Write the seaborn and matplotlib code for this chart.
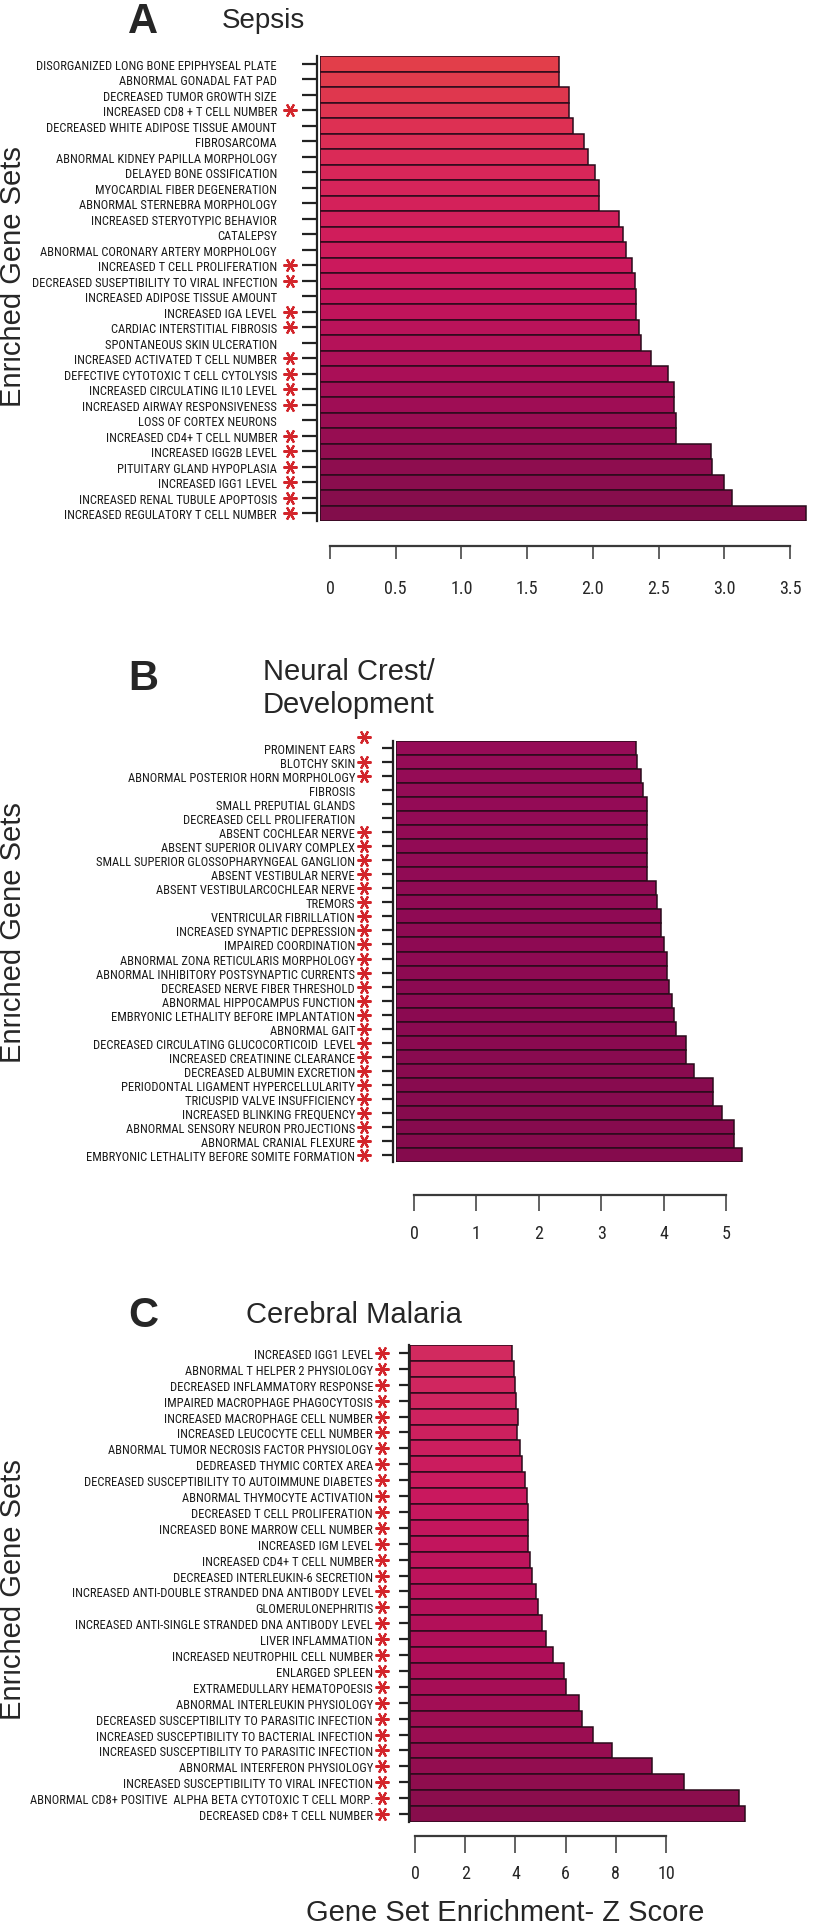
import matplotlib
matplotlib.use("Agg")
import matplotlib.pyplot as plt
import matplotlib.transforms as mtransforms
from matplotlib import font_manager
import pandas as pd
import seaborn as sns

W, H = 819, 1924

# ---- data ----
sepsis_sets = [
    "DISORGANIZED LONG BONE EPIPHYSEAL PLATE", "ABNORMAL GONADAL FAT PAD",
    "DECREASED TUMOR GROWTH SIZE", "INCREASED CD8 + T CELL NUMBER",
    "DECREASED WHITE ADIPOSE TISSUE AMOUNT", "FIBROSARCOMA",
    "ABNORMAL KIDNEY PAPILLA MORPHOLOGY", "DELAYED BONE OSSIFICATION",
    "MYOCARDIAL FIBER DEGENERATION", "ABNORMAL STERNEBRA MORPHOLOGY",
    "INCREASED STERYOTYPIC BEHAVIOR", "CATALEPSY",
    "ABNORMAL CORONARY ARTERY MORPHOLOGY", "INCREASED T CELL PROLIFERATION",
    "DECREASED SUSEPTIBILITY TO VIRAL INFECTION", "INCREASED ADIPOSE TISSUE AMOUNT",
    "INCREASED IGA LEVEL", "CARDIAC INTERSTITIAL FIBROSIS",
    "SPONTANEOUS SKIN ULCERATION", "INCREASED ACTIVATED T CELL NUMBER",
    "DEFECTIVE CYTOTOXIC T CELL CYTOLYSIS", "INCREASED CIRCULATING IL10 LEVEL",
    "INCREASED AIRWAY RESPONSIVENESS", "LOSS OF CORTEX NEURONS",
    "INCREASED CD4+ T CELL NUMBER", "INCREASED IGG2B LEVEL",
    "PITUITARY GLAND HYPOPLASIA", "INCREASED IGG1 LEVEL",
    "INCREASED RENAL TUBULE APOPTOSIS", "INCREASED REGULATORY T CELL NUMBER",
]
sepsis_z = [1.74, 1.74, 1.82, 1.82, 1.85, 1.93, 1.96, 2.02, 2.05, 2.05,
            2.20, 2.23, 2.25, 2.30, 2.32, 2.33, 2.33, 2.35, 2.37, 2.44,
            2.57, 2.62, 2.62, 2.63, 2.63, 2.90, 2.91, 3.00, 3.06, 3.62]
sepsis_star = [0, 0, 0, 1, 0, 0, 0, 0, 0, 0,
               0, 0, 0, 1, 1, 0, 1, 1, 0, 1,
               1, 1, 1, 0, 1, 1, 1, 1, 1, 1]

neural_sets = [
    "PROMINENT EARS", "BLOTCHY SKIN", "ABNORMAL POSTERIOR HORN MORPHOLOGY",
    "FIBROSIS", "SMALL PREPUTIAL GLANDS", "DECREASED CELL PROLIFERATION",
    "ABSENT COCHLEAR NERVE", "ABSENT SUPERIOR OLIVARY COMPLEX",
    "SMALL SUPERIOR GLOSSOPHARYNGEAL GANGLION", "ABSENT VESTIBULAR NERVE",
    "ABSENT VESTIBULARCOCHLEAR NERVE", "TREMORS", "VENTRICULAR FIBRILLATION",
    "INCREASED SYNAPTIC DEPRESSION", "IMPAIRED COORDINATION",
    "ABNORMAL ZONA RETICULARIS MORPHOLOGY", "ABNORMAL INHIBITORY POSTSYNAPTIC CURRENTS",
    "DECREASED NERVE FIBER THRESHOLD", "ABNORMAL HIPPOCAMPUS FUNCTION",
    "EMBRYONIC LETHALITY BEFORE IMPLANTATION", "ABNORMAL GAIT",
    "DECREASED CIRCULATING GLUCOCORTICOID  LEVEL", "INCREASED CREATININE CLEARANCE",
    "DECREASED ALBUMIN EXCRETION", "PERIODONTAL LIGAMENT HYPERCELLULARITY",
    "TRICUSPID VALVE INSUFFICIENCY", "INCREASED BLINKING FREQUENCY",
    "ABNORMAL SENSORY NEURON PROJECTIONS", "ABNORMAL CRANIAL FLEXURE",
    "EMBRYONIC LETHALITY BEFORE SOMITE FORMATION",
]
neural_z = [3.56, 3.58, 3.63, 3.67, 3.73, 3.73, 3.73, 3.73, 3.73, 3.73,
            3.88, 3.90, 3.96, 3.96, 4.01, 4.05, 4.06, 4.09, 4.13, 4.16,
            4.20, 4.36, 4.36, 4.49, 4.79, 4.79, 4.94, 5.13, 5.13, 5.26]
neural_star = [0, 1, 1, 0, 0, 0, 1, 1, 1, 1,
               1, 1, 1, 1, 1, 1, 1, 1, 1, 1,
               1, 1, 1, 1, 1, 1, 1, 1, 1, 1]

malaria_sets = [
    "INCREASED IGG1 LEVEL", "ABNORMAL T HELPER 2 PHYSIOLOGY",
    "DECREASED INFLAMMATORY RESPONSE", "IMPAIRED MACROPHAGE PHAGOCYTOSIS",
    "INCREASED MACROPHAGE CELL NUMBER", "INCREASED LEUCOCYTE CELL NUMBER",
    "ABNORMAL TUMOR NECROSIS FACTOR PHYSIOLOGY", "DEDREASED THYMIC CORTEX AREA",
    "DECREASED SUSCEPTIBILITY TO AUTOIMMUNE DIABETES", "ABNORMAL THYMOCYTE ACTIVATION",
    "DECREASED T CELL PROLIFERATION", "INCREASED BONE MARROW CELL NUMBER",
    "INCREASED IGM LEVEL", "INCREASED CD4+ T CELL NUMBER",
    "DECREASED INTERLEUKIN-6 SECRETION", "INCREASED ANTI-DOUBLE STRANDED DNA ANTIBODY LEVEL",
    "GLOMERULONEPHRITIS", "INCREASED ANTI-SINGLE STRANDED DNA ANTIBODY LEVEL",
    "LIVER INFLAMMATION", "INCREASED NEUTROPHIL CELL NUMBER",
    "ENLARGED SPLEEN", "EXTRAMEDULLARY HEMATOPOESIS",
    "ABNORMAL INTERLEUKIN PHYSIOLOGY", "DECREASED SUSCEPTIBILITY TO PARASITIC INFECTION",
    "INCREASED SUSCEPTIBILITY TO BACTERIAL INFECTION",
    "INCREASED SUSCEPTIBILITY TO PARASITIC INFECTION",
    "ABNORMAL INTERFERON PHYSIOLOGY", "INCREASED SUSCEPTIBILITY TO VIRAL INFECTION",
    "ABNORMAL CD8+ POSITIVE  ALPHA BETA CYTOTOXIC T CELL MORP.",
    "DECREASED CD8+ T CELL NUMBER",
]
malaria_z = [3.87, 3.93, 3.98, 4.03, 4.09, 4.08, 4.20, 4.26, 4.37, 4.46,
             4.50, 4.50, 4.50, 4.60, 4.67, 4.81, 4.92, 5.06, 5.23, 5.50,
             5.92, 6.03, 6.53, 6.64, 7.08, 7.83, 9.43, 10.70, 12.92, 13.15]
malaria_star = [1] * 30

sepsis_ticks = [0, 0.5, 1.0, 1.5, 2.0, 2.5, 3.0, 3.5]
sepsis_ticklabels = ["0", "0.5", "1.0", "1.5", "2.0", "2.5", "3.0", "3.5"]
neural_ticks = [0, 1, 2, 3, 4, 5]
malaria_ticks = [0, 2, 4, 6, 8, 10]

# ---- style ----
sns.set_theme(style="ticks")
plt.rcParams["font.family"] = ["Liberation Sans", "DejaVu Sans"]

STAR_RED = "#d3262c"
PT = 0.72  # points per pixel at dpi 100

fig = plt.figure(figsize=(W / 100, H / 100), dpi=100)


def condensed_font():
    # the gene-set labels are set in a narrow face; use one if any is installed
    wanted = ["Liberation Sans Narrow", "Roboto Condensed", "Open Sans Condensed",
              "DejaVu Sans Condensed", "Noto Sans Condensed"]
    fonts = font_manager.fontManager.ttflist
    for name in wanted:
        for f in fonts:
            if f.name == name and f.style == "normal" and f.weight in (400, "normal", "regular"):
                return font_manager.FontProperties(fname=f.fname)
    for f in fonts:
        if (f.stretch in ("condensed", "semi-condensed") and "Sans" in f.name
                and f.style == "normal" and f.weight in (400, "normal", "regular")):
            return font_manager.FontProperties(fname=f.fname)
    return font_manager.FontProperties(family="Liberation Sans")


label_fp = condensed_font()
# size the labels so the longest Sepsis label is as wide as in the original (~240 px)
probe = fig.text(0, 0, sepsis_sets[0], fontproperties=label_fp, fontsize=10)
probe_w = probe.get_window_extent(renderer=fig.canvas.get_renderer()).width
probe.remove()
LABEL_SIZE = 10 * 240 / probe_w
TICK_SIZE = 13


def fx(px):
    return px / W


def fy(py):
    return 1 - py / H


def draw_panel(names, z, stars, colors, box, zero_px, px_per_unit, ticks, ticklabels,
               drop, tick_len, tick_pad, yspine_off, ytick_len, ylab_pad, star_px):
    left, top, bottom = box
    ax = fig.add_axes([fx(left), fy(bottom), fx(W - left), (bottom - top) / H])
    df = pd.DataFrame({"gene_set": names, "z": z})
    sns.barplot(data=df, x="z", y="gene_set", hue="gene_set", palette=colors,
                legend=False, width=1.0, saturation=1, orient="h",
                edgecolor="#2a0b1b", linewidth=1.1, ax=ax)
    x0 = (left - zero_px) / px_per_unit
    x1 = (W - zero_px) / px_per_unit
    # bars in the original start at the frame edge, a bit left of the 0 tick
    for p in ax.patches:
        p.set_width(p.get_x() + p.get_width() - x0)
        p.set_x(x0)
    ax.set_xlim(x0, x1)
    ax.set_ylim(len(names) - 0.5, -0.5)
    ax.set_xlabel("")
    ax.set_ylabel("")
    sns.despine(ax=ax)
    ax.spines["bottom"].set_position(("outward", drop * PT))
    ax.spines["bottom"].set_bounds(ticks[0], ticks[-1])
    ax.spines["bottom"].set_linewidth(1.6)
    ax.spines["bottom"].set_color("#3a3a3a")
    ax.spines["left"].set_position(("outward", yspine_off * PT))
    ax.spines["left"].set_linewidth(1.6)
    ax.spines["left"].set_color("#222222")
    ax.set_xticks(ticks)
    ax.set_xticklabels(ticklabels)
    ax.tick_params(axis="x", length=tick_len * PT, width=1.3, color="#555555",
                   pad=tick_pad * PT)
    ax.tick_params(axis="y", length=ytick_len * PT, width=1.6, color="#222222",
                   pad=ylab_pad * PT)
    for t in ax.get_yticklabels():
        t.set_fontproperties(label_fp)
        t.set_fontsize(LABEL_SIZE)
        t.set_color("#1a1a1a")
    for t in ax.get_xticklabels():
        t.set_fontproperties(label_fp)
        t.set_fontsize(TICK_SIZE)
    # significance asterisks next to the labels
    trans = mtransforms.blended_transform_factory(fig.transFigure, ax.transData)
    ys = [i for i, s in enumerate(stars) if s]
    ax.plot([fx(star_px)] * len(ys), ys, ls="none", marker=(6, 2, 90),
            markersize=10, markeredgewidth=1.6, color=STAR_RED,
            transform=trans, clip_on=False)
    return ax, trans


# Panel A -- Sepsis
pal_a = sns.blend_palette(["#e23e4a", "#d8255a", "#c8165c", "#a00d55", "#820d4b"], 30)
draw_panel(sepsis_sets, sepsis_z, sepsis_star, pal_a, (320, 57, 522),
           330, 131.4, sepsis_ticks, sepsis_ticklabels,
           drop=25, tick_len=13, tick_pad=20, yspine_off=3, ytick_len=15,
           ylab_pad=25, star_px=290)

# Panel B -- Neural crest / development
pal_b = sns.blend_palette(["#960c57", "#8e0a53", "#850b4d"], 30)
ax_b, trans_b = draw_panel(neural_sets, neural_z, neural_star, pal_b, (396, 742, 1163),
                           414, 62.4, neural_ticks, [str(t) for t in neural_ticks],
                           drop=33, tick_len=16, tick_pad=13, yspine_off=3, ytick_len=11,
                           ylab_pad=27, star_px=364)
ax_b.plot([fx(364)], [-0.75], ls="none", marker=(6, 2, 90), markersize=10,
          markeredgewidth=1.6, color=STAR_RED, transform=trans_b, clip_on=False)

# Panel C -- Cerebral malaria
pal_c = sns.blend_palette(["#d22a5f", "#c8175e", "#ad0e58", "#870d4c"], 30)
draw_panel(malaria_sets, malaria_z, malaria_star, pal_c, (410, 1346, 1823),
           415, 25.1, malaria_ticks, [str(t) for t in malaria_ticks],
           drop=14, tick_len=17, tick_pad=11, yspine_off=1, ytick_len=10,
           ylab_pad=26, star_px=382)

# ---- panel letters, titles, axis titles ----
for letter, base in [("A", 33), ("B", 690), ("C", 1327)]:
    fig.text(fx(128), fy(base), letter, fontsize=30, fontweight="bold",
             ha="left", va="baseline")
fig.text(fx(222), fy(28), "Sepsis", fontsize=20, ha="left", va="baseline")
fig.text(fx(263), fy(680), "Neural Crest/", fontsize=21, ha="left", va="baseline")
fig.text(fx(263), fy(713), "Development", fontsize=21, ha="left", va="baseline")
fig.text(fx(246), fy(1323), "Cerebral Malaria", fontsize=21, ha="left", va="baseline")

for yc in [277, 933, 1590]:
    fig.text(fx(13), fy(yc), "Enriched Gene Sets", fontsize=21, rotation=90,
             ha="center", va="center")

fig.text(fx(505), fy(1921), "Gene Set Enrichment- Z Score", fontsize=21,
         ha="center", va="baseline")

fig.savefig("out.png", dpi=100, facecolor="white")
